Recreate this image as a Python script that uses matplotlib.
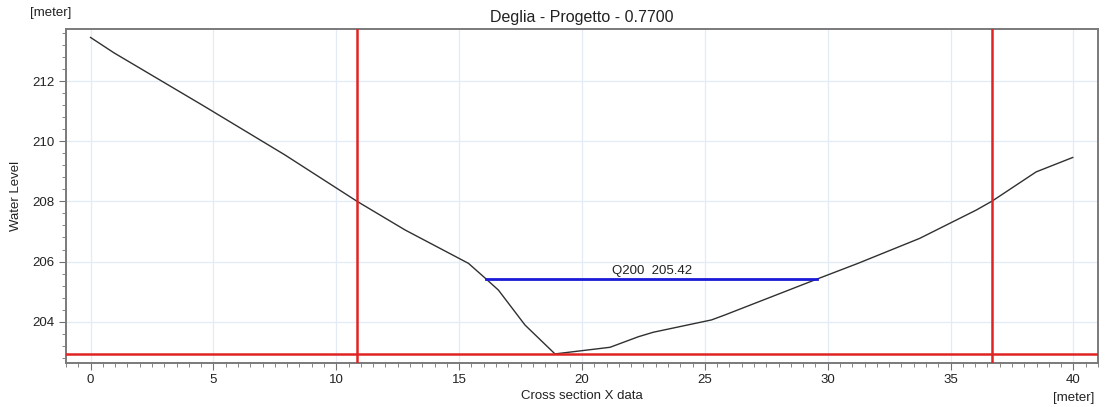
import matplotlib.pyplot as plt
from matplotlib.ticker import MultipleLocator

# cross section profile (station, level)
station = [0.0, 0.95, 4.55, 7.9, 10.85, 12.8, 15.38, 16.1, 16.6, 17.68, 18.9,
           21.14, 22.29, 22.9, 25.27, 25.8, 29.57, 31.23, 33.74, 36.04, 36.69,
           38.48, 39.97]
level = [213.45, 212.94, 211.2, 209.55, 208.0, 207.05, 205.94, 205.42, 205.05,
         203.89, 202.93, 203.15, 203.5, 203.65, 204.06, 204.22, 205.42, 205.94,
         206.77, 207.71, 208.01, 208.98, 209.46]

# water level Q200 and its wetted extent
q_label = "Q200"
q_level = 205.42
q_left = 16.1
q_right = 29.57

# bank markers and bed level
bank_left = 10.85
bank_right = 36.69
bed_level = 202.92

plt.rcParams['font.family'] = ['Liberation Sans', 'DejaVu Sans']

fig = plt.figure(figsize=(11.05, 4.07), dpi=100)
ax = fig.add_axes([0.0597, 0.109, 0.934, 0.8197])

ax.plot(station, level, color='#303030', lw=1.0, zorder=3)
ax.plot([q_left, q_right], [q_level, q_level], color='#1a1ad8', lw=2, zorder=4)
ax.text((q_left + q_right) / 2, q_level + 0.08, f"{q_label}  {q_level:.2f}",
        ha='center', va='bottom', fontsize=9.5, color='#222222')

ax.axvline(bank_left, color='#e02424', lw=1.8, zorder=5)
ax.axvline(bank_right, color='#e02424', lw=1.8, zorder=5)
ax.axhline(bed_level, color='#e02424', lw=1.8, zorder=5)

ax.set_xlim(-1, 41)
ax.set_ylim(202.64, 213.73)
ax.xaxis.set_major_locator(MultipleLocator(5))
ax.xaxis.set_minor_locator(MultipleLocator(0.5))
ax.yaxis.set_major_locator(MultipleLocator(2))
ax.yaxis.set_minor_locator(MultipleLocator(0.4))
ax.grid(True, which='major', color='#e3ecf6', lw=0.9)
ax.set_axisbelow(True)

ax.tick_params(which='both', direction='out', color='#707070', labelsize=9.5,
               labelcolor='#222222')
ax.tick_params(which='major', length=5)
ax.tick_params(which='minor', length=3)
for s in ax.spines.values():
    s.set_color('#7a7a7a')
    s.set_linewidth(1.4)

ax.set_title("Deglia - Progetto - 0.7700", fontsize=11.5, color='#222222', pad=5)
ax.set_xlabel("Cross section X data", fontsize=9.5, color='#222222', labelpad=2.5)
ax.set_ylabel("Water Level", fontsize=9.5, color='#222222', labelpad=7)
fig.text(0.027, 0.967, "[meter]", fontsize=9.5, color='#222222', va='center')
fig.text(0.972, 0.022, "[meter]", fontsize=9.5, color='#222222', ha='center',
         va='center')

fig.savefig("out.png", dpi=100)
